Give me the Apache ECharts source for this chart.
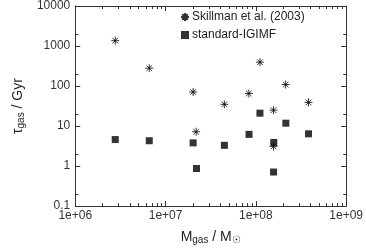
<!DOCTYPE html>
<html>
<head>
<meta charset="utf-8">
<script src="https://cdn.jsdelivr.net/npm/echarts@6/dist/echarts.min.js"></script>
<style>
html,body{margin:0;padding:0;background:#fff;}
#c{width:366px;height:250px;}
</style>
</head>
<body>
<div id="c"></div>
<script>
// ---- data ----
const seriesNames = ['Skillman et al. (2003)', 'standard-IGIMF'];
const skillmanMass = [2.77e6, 6.6e6, 2.02e7, 2.18e7, 4.48e7, 8.36e7, 1.11e8, 1.57e8, 1.57e8, 2.14e8, 3.83e8];
const skillmanTau  = [1360, 280, 71, 7.2, 35, 65, 395, 25, 3.1, 109, 39];
const igimfMass = [2.77e6, 6.6e6, 2.02e7, 2.2e7, 4.48e7, 8.4e7, 1.11e8, 1.58e8, 1.57e8, 2.15e8, 3.83e8];
const igimfTau  = [4.6, 4.3, 3.8, 0.87, 3.3, 6.2, 21, 3.9, 0.71, 11.8, 6.4];
const xTickLabels = ['1e+06', '1e+07', '1e+08', '1e+09'];
const yTickLabels = ['0.1', '1', '10', '100', '1000', '10000'];
const xMinorMultipliers = [2, 3, 4, 5, 6, 7, 8, 9];
const yMinorMultipliers = [2];

const X_MIN = 1e6, X_MAX = 1e9, Y_MIN = 0.1, Y_MAX = 1e4;
const FONT = '"Liberation Sans", Arial, sans-serif';
const AX = '#333';

const asterisk = 'path://M0,5L10,5M5,0L5,10M1.5,1.5L8.5,8.5M8.5,1.5L1.5,8.5';

function pairs(xs, ys) { return xs.map((x, i) => [x, ys[i]]); }

const chart = echarts.init(document.getElementById('c'), null, {renderer: 'canvas'});

function xFmt(v) {
  const e = Math.round(Math.log10(v));
  return xTickLabels[e - 6] || '';
}
function yFmt(v) {
  const e = Math.round(Math.log10(v));
  return yTickLabels[e + 1] || '';
}

const baseAxis = {
  type: 'log', logBase: 10,
  axisLine: {show: true, onZero: false, lineStyle: {color: AX, width: 1}},
  axisTick: {show: true, inside: true, length: 5, lineStyle: {color: AX}},
  splitLine: {show: false},
  minorTick: {show: false}
};

chart.setOption({
  animation: false,
  backgroundColor: '#fff',
  grid: {left: 57, right: 17, top: 5, bottom: 43},
  legend: {
    orient: 'vertical', left: 180, top: 11, itemGap: 6, padding: 0,
    itemWidth: 8, itemHeight: 8,
    textStyle: {fontFamily: FONT, fontSize: 12, color: '#222', padding: [0, 0, 0, -2]},
    data: seriesNames
  },
  xAxis: [
    Object.assign({}, baseAxis, {
      min: X_MIN, max: X_MAX, position: 'bottom',
      axisLabel: {formatter: xFmt, fontFamily: FONT, fontSize: 12, color: '#333', margin: 4},
      name: '{n|M}{s|gas}{n| / M}{s|☉}',
      nameLocation: 'middle', nameGap: 17,
      nameTextStyle: {
        fontFamily: FONT, fontSize: 14, color: '#222',
        rich: {
          n: {fontFamily: FONT, fontSize: 14, color: '#222', lineHeight: 16},
          s: {fontFamily: FONT, fontSize: 10, color: '#222', lineHeight: 16, verticalAlign: 'bottom', padding: [8, 0, 0, 0]}
        }
      }
    }),
    Object.assign({}, baseAxis, {
      min: X_MIN, max: X_MAX, position: 'top',
      axisLabel: {show: false}
    })
  ],
  yAxis: [
    Object.assign({}, baseAxis, {
      min: Y_MIN, max: Y_MAX, position: 'left',
      axisLabel: {formatter: yFmt, fontFamily: FONT, fontSize: 12, color: '#333', margin: 5},
      name: '{n|τ}{s|gas}{n| / Gyr}',
      nameLocation: 'middle', nameGap: 40, nameRotate: 90,
      nameTextStyle: {
        fontFamily: FONT, fontSize: 14, color: '#222',
        rich: {
          n: {fontFamily: FONT, fontSize: 14, color: '#222', lineHeight: 16},
          s: {fontFamily: FONT, fontSize: 10, color: '#222', lineHeight: 16, verticalAlign: 'bottom', padding: [8, 0, 0, 0]}
        }
      }
    }),
    Object.assign({}, baseAxis, {
      min: Y_MIN, max: Y_MAX, position: 'right',
      axisLabel: {show: false}
    })
  ],
  series: [
    {
      name: seriesNames[0], type: 'scatter', xAxisIndex: 0, yAxisIndex: 0,
      symbol: asterisk, symbolSize: 8,
      itemStyle: {color: 'rgba(0,0,0,0)', borderColor: '#000', borderWidth: 1},
      data: pairs(skillmanMass, skillmanTau), z: 3
    },
    {
      name: seriesNames[1], type: 'scatter', xAxisIndex: 0, yAxisIndex: 0,
      symbol: 'rect', symbolSize: 7,
      itemStyle: {color: '#000'},
      data: pairs(igimfMass, igimfTau), z: 2
    }
  ]
});

// minor ticks (log 2..9 style), positioned through the chart's own scales
function drawMinor() {
  const els = [];
  const line = (x1, y1, x2, y2) => els.push({
    type: 'line', shape: {x1, y1, x2, y2}, style: {stroke: AX, lineWidth: 1}, silent: true
  });
  const yb = chart.convertToPixel({yAxisIndex: 0}, Y_MIN);
  const yt = chart.convertToPixel({yAxisIndex: 0}, Y_MAX);
  const xl = chart.convertToPixel({xAxisIndex: 0}, X_MIN);
  const xr = chart.convertToPixel({xAxisIndex: 0}, X_MAX);
  for (let e = 6; e < 9; e++) {
    xMinorMultipliers.forEach(m => {
      const px = Math.round(chart.convertToPixel({xAxisIndex: 0}, m * Math.pow(10, e))) + 0.5;
      line(px, yb, px, yb - 3);
      line(px, yt, px, yt + 3);
    });
  }
  for (let e = -1; e < 4; e++) {
    yMinorMultipliers.forEach(m => {
      const py = Math.round(chart.convertToPixel({yAxisIndex: 0}, m * Math.pow(10, e))) + 0.5;
      line(xl, py, xl + 3, py);
      line(xr, py, xr - 3, py);
    });
  }
  chart.setOption({graphic: els});
}
drawMinor();
</script>
</body>
</html>
